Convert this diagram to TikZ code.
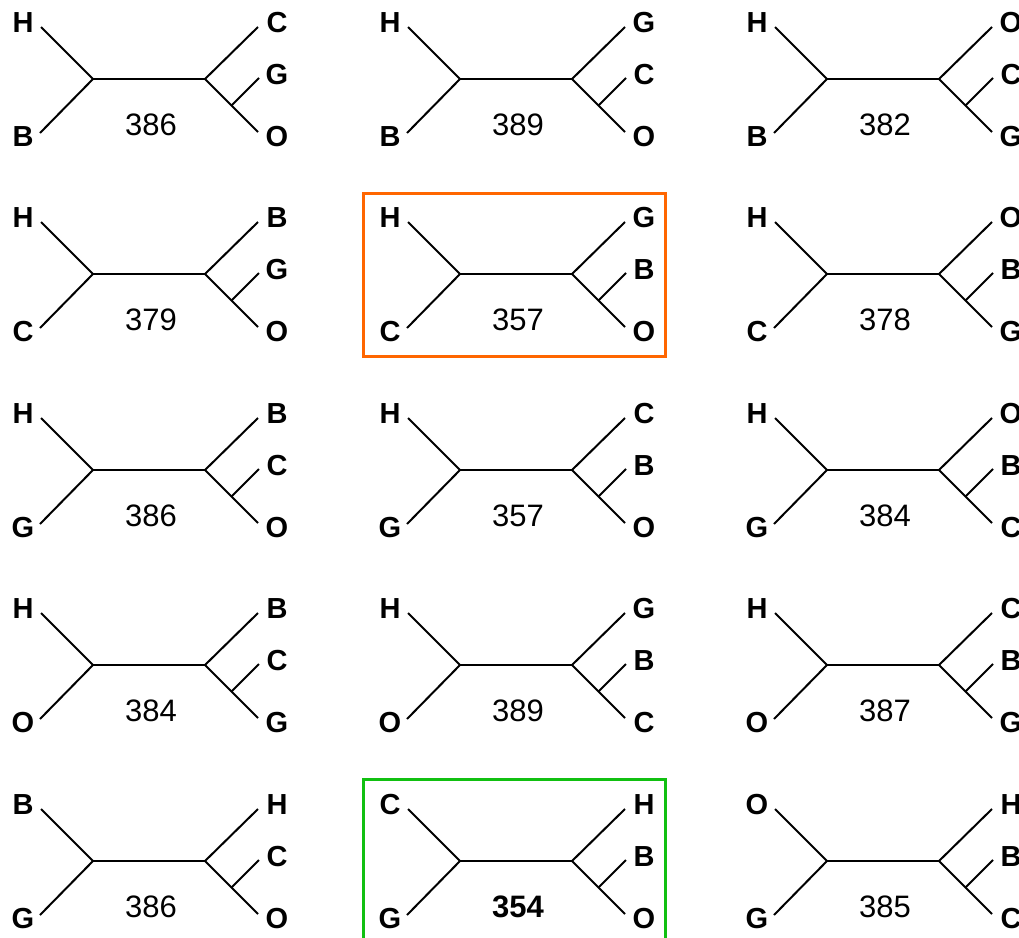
\documentclass[tikz,border=0pt]{standalone}
\usepackage{fontspec}
\setmainfont{Liberation Sans}
\usetikzlibrary{calc}
\definecolor{boxorange}{RGB}{255,102,0}
\definecolor{boxgreen}{RGB}{17,192,17}
\tikzset{
  branch/.style={line width=2bp, black},
  leaf/.style={inner sep=0pt, font=\fontsize{29bp}{29bp}\selectfont\bfseries},
  num/.style={inner sep=0pt, font=\fontsize{31bp}{31bp}\selectfont},
  hilite/.style={line width=3bp}
}
\newcommand{\qtree}[9]{%
\begin{scope}[shift={(#1,#2)}]
  \coordinate (#3-l) at (0,0);
  \coordinate (#3-r) at (112,0);
  \coordinate (#3-a) at (-52,-52);
  \coordinate (#3-b) at (-53,54);
  \coordinate (#3-c) at (165,-52);
  \coordinate (#3-e) at (165,53);
  \coordinate (#3-m) at ($(#3-r)!0.5!(#3-e)$);
  \coordinate (#3-d) at (166,-1);
  \draw[branch] (#3-a) -- (#3-l) -- (#3-b);
  \draw[branch] (#3-l) -- (#3-r);
  \draw[branch] (#3-c) -- (#3-r) -- (#3-e);
  \draw[branch] (#3-m) -- (#3-d);
  \node[leaf] (#3-ta) at (-70,-56) {#4};
  \node[leaf] (#3-tb) at (-70,58) {#5};
  \node[leaf] (#3-tc) at (184,-56) {#6};
  \node[leaf] (#3-td) at (184,-4) {#7};
  \node[leaf] (#3-te) at (184,58) {#8};
  \node[num] (#3-n) at (58,46) {#9};
\end{scope}}
\begin{document}
\begin{tikzpicture}[x=1bp,y=-1bp]
\useasboundingbox (0,0) rectangle (1019,938);
\clip (0,0) rectangle (1019,938);
\fill[white] (0,0) rectangle (1019,938);
% row 1
\qtree{93}{79}{t11}{H}{B}{C}{G}{O}{386}
\qtree{460}{79}{t12}{H}{B}{G}{C}{O}{389}
\qtree{827}{79}{t13}{H}{B}{O}{C}{G}{382}
% row 2
\qtree{93}{274}{t21}{H}{C}{B}{G}{O}{379}
\qtree{460}{274}{t22}{H}{C}{G}{B}{O}{357}
\qtree{827}{274}{t23}{H}{C}{O}{B}{G}{378}
% row 3
\qtree{93}{470}{t31}{H}{G}{B}{C}{O}{386}
\qtree{460}{470}{t32}{H}{G}{C}{B}{O}{357}
\qtree{827}{470}{t33}{H}{G}{O}{B}{C}{384}
% row 4
\qtree{93}{665}{t41}{H}{O}{B}{C}{G}{384}
\qtree{460}{665}{t42}{H}{O}{G}{B}{C}{389}
\qtree{827}{665}{t43}{H}{O}{C}{B}{G}{387}
% row 5
\qtree{93}{861}{t51}{B}{G}{H}{C}{O}{386}
\qtree{460}{861}{t52}{C}{G}{H}{B}{O}{\bfseries 354}
\qtree{827}{861}{t53}{O}{G}{H}{B}{C}{385}
% highlight boxes
\node[draw=boxorange, hilite, inner sep=0pt, minimum width=302bp, minimum height=163bp] (box1) at (514,274.5) {};
\node[draw=boxgreen, hilite, inner sep=0pt, minimum width=302bp, minimum height=163bp] (box2) at (514,860.5) {};
\end{tikzpicture}
\end{document}
